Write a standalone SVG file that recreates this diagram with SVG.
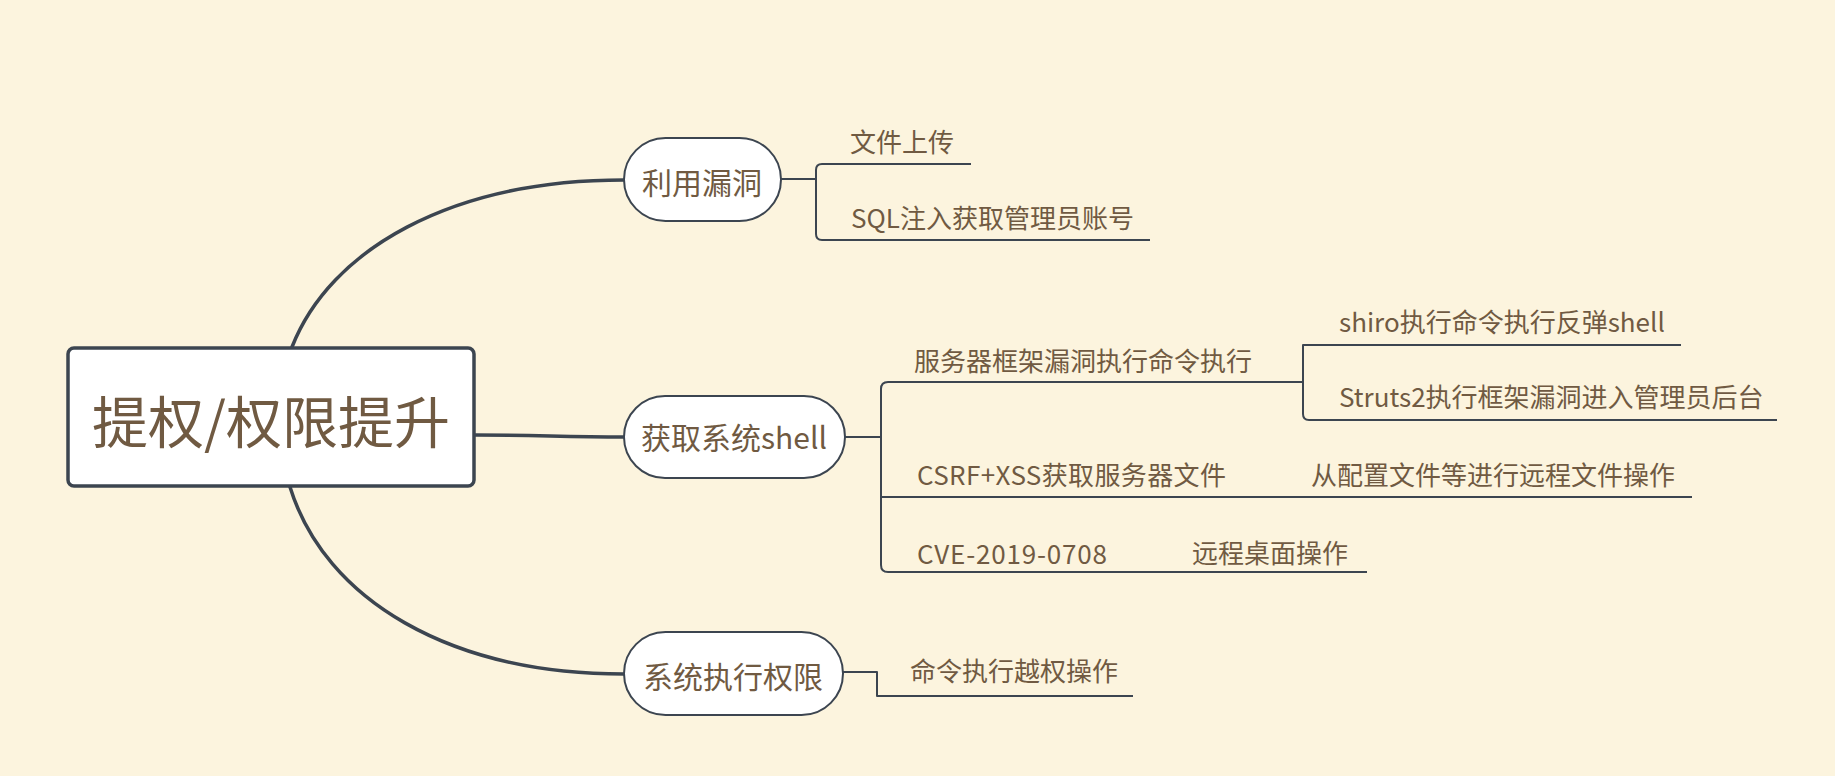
<svg xmlns="http://www.w3.org/2000/svg" width="1835" height="776" viewBox="0 0 1835 776">
<style>
.bg{fill:#fcf4de}
.txt{font-family:"Noto Sans CJK SC","Noto Sans",sans-serif;fill:#705a42}
.root-t{font-size:56px}
.topic-t{font-size:30px}
.sub-t{font-size:26px}
.main{fill:none;stroke:#3c4550;stroke-width:3.5;stroke-linecap:round}
.sub{fill:none;stroke:#3c4550;stroke-width:2;stroke-linejoin:round}
.root-b{fill:#ffffff;stroke:#3c4550;stroke-width:3.5}
.topic-b{fill:#ffffff;stroke:#3c4550;stroke-width:2}
</style>
<rect class="bg" x="0" y="0" width="1835" height="776"/>
<g id="connectors">
  <path class="main" d="M292,347 C330,250 450,180 624,180"/>
  <path class="main" d="M475,435 C540,435 560,437 625,437"/>
  <path class="main" d="M290,487 C325,600 450,674 624,674"/>
  <path class="sub" d="M781,179 H816"/>
  <path class="sub" d="M971,164 H822 Q816,164 816,170 V234 Q816,240 822,240 H1150"/>
  <path class="sub" d="M845,437 H881"/>
  <path class="sub" d="M1303,382 H888 Q881,382 881,389 V565 Q881,572 888,572 H1367"/>
  <path class="sub" d="M881,497 H1692"/>
  <path class="sub" d="M1681,345 H1303 V414 Q1303,420 1309,420 H1777"/>
  <path class="sub" d="M843,672 H877 V696 H1133"/>
</g>
<g id="root">
  <rect class="root-b" x="68" y="348" width="406" height="138" rx="6"/>
  <text class="txt root-t" x="271" y="443" text-anchor="middle">提权/权限提升</text>
</g>
<g id="topic-exploit">
  <rect class="topic-b" x="624" y="138" width="157" height="83" rx="41.5"/>
  <text class="txt topic-t" x="702" y="194" text-anchor="middle">利用漏洞</text>
</g>
<g id="topic-shell">
  <rect class="topic-b" x="624" y="396" width="221" height="82" rx="41"/>
  <text class="txt topic-t" x="734" y="449" text-anchor="middle">获取系统shell</text>
</g>
<g id="topic-sys">
  <rect class="topic-b" x="624" y="632" width="219" height="83" rx="41.5"/>
  <text class="txt topic-t" x="733" y="688" text-anchor="middle">系统执行权限</text>
</g>
<g id="sub-upload"><text class="txt sub-t" x="850" y="152">文件上传</text></g>
<g id="sub-sql"><text class="txt sub-t" x="851" y="228">SQL注入获取管理员账号</text></g>
<g id="sub-framework"><text class="txt sub-t" x="914" y="371">服务器框架漏洞执行命令执行</text></g>
<g id="sub-shiro"><text class="txt sub-t" x="1339" y="332">shiro执行命令执行反弹shell</text></g>
<g id="sub-struts"><text class="txt sub-t" x="1339" y="407">Struts2执行框架漏洞进入管理员后台</text></g>
<g id="sub-csrf"><text class="txt sub-t" x="917" y="485" textLength="309" lengthAdjust="spacing">CSRF+XSS获取服务器文件</text></g>
<g id="sub-config"><text class="txt sub-t" x="1311" y="485">从配置文件等进行远程文件操作</text></g>
<g id="sub-cve"><text class="txt sub-t" x="917" y="564" textLength="190" lengthAdjust="spacing">CVE-2019-0708</text></g>
<g id="sub-rdp"><text class="txt sub-t" x="1192" y="563">远程桌面操作</text></g>
<g id="sub-cmd"><text class="txt sub-t" x="910" y="681">命令执行越权操作</text></g>
</svg>
